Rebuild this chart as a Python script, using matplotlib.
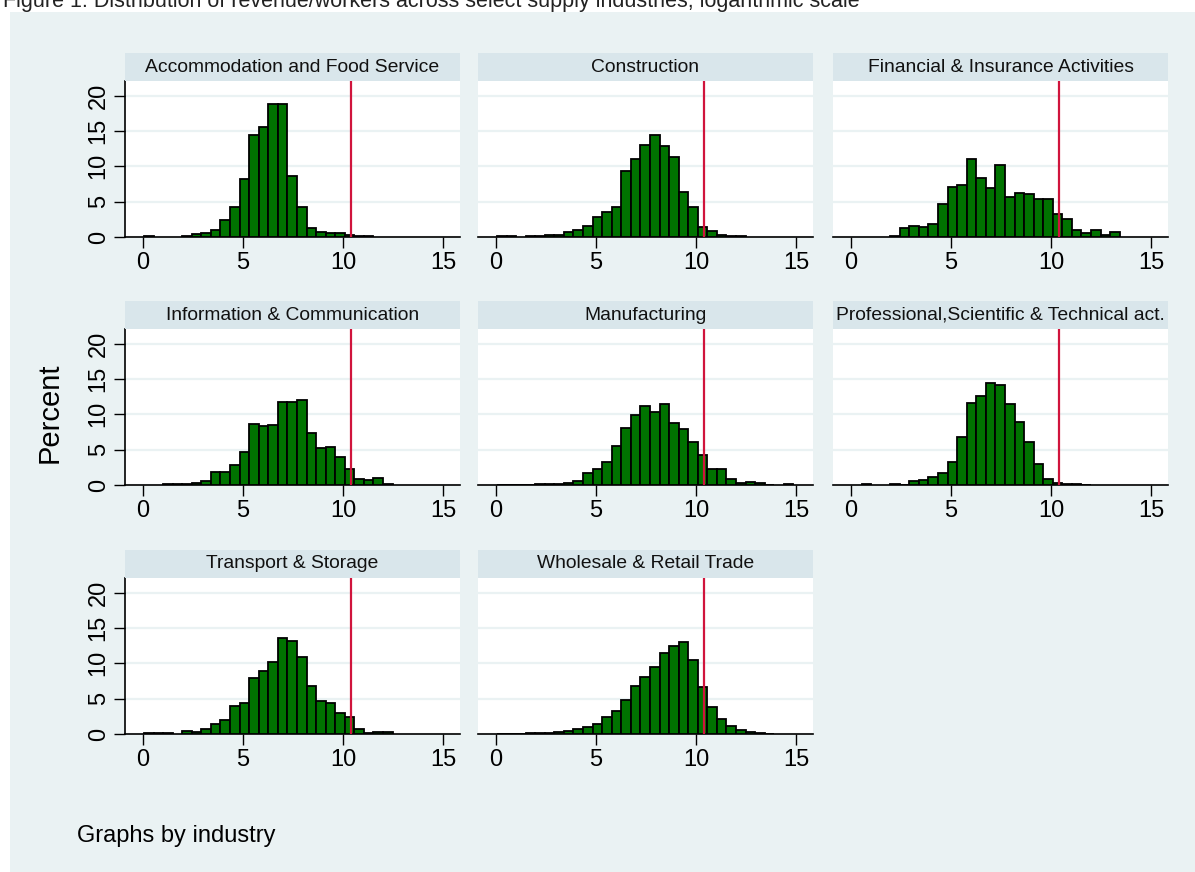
import numpy as np
import matplotlib
matplotlib.use("Agg")
import matplotlib.pyplot as plt

plt.rcParams['font.family'] = ['Liberation Sans', 'DejaVu Sans']

# histogram bins (log revenue per worker)
bin_start = 0.05
bin_width = 0.478
n_bins = 31
cutoff = 10.4

industries = ["Accommodation and Food Service", "Construction",
              "Financial & Insurance Activities", "Information & Communication",
              "Manufacturing", "Professional,Scientific & Technical act.",
              "Transport & Storage", "Wholesale & Retail Trade"]

accommodation = [0.15, 0, 0, 0, 0.1, 0.4, 0.5, 0.95, 2.4, 4.2, 8.2, 14.4, 15.6, 18.8, 18.8, 8.6,
                 4.2, 1.3, 0.7, 0.55, 0.5, 0.3, 0.1, 0.1, 0, 0, 0, 0, 0, 0, 0]
construction = [0.1, 0.2, 0, 0.1, 0.2, 0.3, 0.25, 0.7, 1.0, 1.5, 2.8, 3.6, 4.3, 9.3, 11.0, 13.0,
                14.5, 12.9, 11.3, 6.3, 4.2, 1.45, 0.9, 0.35, 0.2, 0.1, 0, 0, 0, 0, 0]
financial = [0, 0, 0, 0, 0.15, 1.3, 1.5, 1.45, 1.9, 4.6, 7.1, 7.35, 11.1, 8.4, 6.9, 10.2,
             5.7, 6.25, 6.05, 5.4, 5.4, 3.3, 2.5, 0.95, 0.55, 1.05, 0.3, 0.7, 0, 0, 0]
information = [0, 0, 0.1, 0.15, 0.2, 0.35, 0.6, 1.9, 1.8, 2.9, 4.6, 8.65, 8.3, 8.45, 11.7, 11.7,
               12.05, 7.3, 5.3, 5.4, 3.95, 2.2, 0.85, 0.7, 1.05, 0.1, 0, 0, 0, 0, 0]
manufacturing = [0.05, 0.05, 0.05, 0.05, 0.1, 0.1, 0.2, 0.35, 0.6, 1.75, 2.3, 3.2, 5.55, 8.1, 9.9, 11.15,
                 10.35, 11.45, 8.8, 7.9, 6.05, 4.2, 2.25, 2.2, 0.9, 0.35, 0.4, 0.25, 0.05, 0, 0.1]
professional = [0, 0.1, 0, 0, 0.1, 0.05, 0.5, 0.7, 1.1, 1.7, 3.3, 6.8, 11.6, 12.6, 14.5, 14.15,
                11.4, 8.9, 6.15, 2.95, 0.85, 0.35, 0.2, 0.1, 0.05, 0, 0, 0, 0, 0, 0]
transport = [0.1, 0.1, 0.1, 0, 0.4, 0.25, 0.65, 1.4, 2.0, 4.0, 4.35, 7.95, 8.9, 10.2, 13.6, 13.2,
             10.9, 6.85, 4.7, 4.35, 2.95, 2.45, 0.65, 0.1, 0.25, 0.35, 0, 0, 0, 0, 0]
wholesale = [0.05, 0.05, 0.05, 0.1, 0.1, 0.15, 0.3, 0.45, 0.75, 1.05, 1.4, 2.4, 3.3, 4.8, 6.8, 8.05,
             9.45, 11.4, 12.4, 12.95, 10.4, 6.7, 3.8, 2.1, 1.2, 0.5, 0.3, 0.1, 0.05, 0, 0]

series = [accommodation, construction, financial, information,
          manufacturing, professional, transport, wholesale]

x_ticks = [0, 5, 10, 15]
y_ticks = [0, 5, 10, 15, 20]

W, H = 1195, 872
bg = '#EAF2F3'
strip_col = '#D9E6EB'
bar_col = '#007300'
line_col = '#D0143C'

fig = plt.figure(figsize=(W / 100, H / 100), dpi=100)
fig.patch.set_facecolor('white')

# light background panel
fig.patches.append(plt.Rectangle((10 / W, 0.0), 1 - 10 / W, 1 - 12 / H,
                                 transform=fig.transFigure, facecolor=bg,
                                 edgecolor='none', zorder=-10))

fig.text(3 / W, 1 - 7 / H,
         "Figure 1: Distribution of revenue/workers across select supply industries, logarithmic scale",
         fontsize=15.5, va='baseline', ha='left', color='#222222')

col_x = [125, 478, 833]
plot_w = 335
row_top = [81, 329, 578]
plot_h = 156
strip_h = 28

edges = bin_start + bin_width * np.arange(n_bins)

for i, (name, vals) in enumerate(zip(industries, series)):
    r, c = divmod(i, 3)
    x0 = col_x[c]
    y0 = row_top[r]
    ax = fig.add_axes([x0 / W, 1 - (y0 + plot_h) / H, plot_w / W, plot_h / H])
    sax = fig.add_axes([x0 / W, 1 - y0 / H, plot_w / W, strip_h / H])
    sax.set_facecolor(strip_col)
    sax.set_xticks([])
    sax.set_yticks([])
    for s in sax.spines.values():
        s.set_visible(False)
    sax.text(0.5, 0.5, name, ha='center', va='center', fontsize=13.9,
             transform=sax.transAxes, color='#111111')

    vals = np.array(vals)
    mask = vals > 0
    ax.bar(edges[mask], vals[mask], width=bin_width, align='edge',
           color=bar_col, edgecolor='black', linewidth=1.3, zorder=3)
    ax.axvline(cutoff, color=line_col, linewidth=1.6, zorder=4)

    ax.set_xlim(-0.9, 15.85)
    ax.set_ylim(0, 22.07)
    ax.set_facecolor('white')
    for yv in y_ticks:
        ax.axhline(yv, color=bg, linewidth=1.6, zorder=1)
    ax.spines['top'].set_visible(False)
    ax.spines['right'].set_visible(False)
    ax.spines['bottom'].set_linewidth(1.2)
    ax.set_xticks(x_ticks)
    ax.tick_params(axis='x', direction='out', length=8, width=1.0,
                   labelsize=17, pad=3)
    if c == 0:
        ax.spines['left'].set_linewidth(1.2)
        ax.set_yticks(y_ticks)
        ax.tick_params(axis='y', direction='out', length=8, width=1.0,
                       labelsize=17, pad=3)
        for lab in ax.get_yticklabels():
            lab.set_rotation(90)
            lab.set_va('center')
    else:
        ax.spines['left'].set_visible(False)
        ax.set_yticks([])

fig.text(50 / W, 1 - 413 / H, "Percent", rotation=90, fontsize=21,
         ha='center', va='center')
fig.text(77 / W, 1 - 842 / H, "Graphs by industry", fontsize=17,
         ha='left', va='baseline')

fig.savefig("out.png", dpi=100, facecolor=fig.get_facecolor())
